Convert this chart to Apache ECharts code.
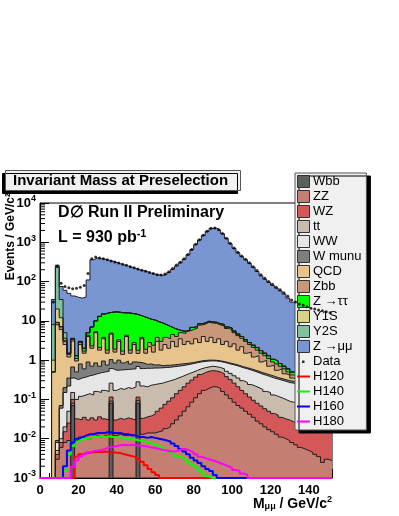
<!DOCTYPE html>
<html><head><meta charset="utf-8">
<script src="https://cdn.jsdelivr.net/npm/echarts@6/dist/echarts.min.js"></script>
<style>html,body{margin:0;padding:0;background:#fff}#c{width:399px;height:516px}</style>
</head><body><div id="c"></div>
<script>
// ---------- binning (2 GeV bins from 0 to 152) ----------
const binLow = 0, binWidth = 2;
const xMin = 0, xMax = 152, xTickStep = 20;
const yMin = 1e-3, yMax = 1e4;
const yMinorMultipliers = [2, 3, 4, 5, 6, 7, 8, 9];

// ---------- stacked backgrounds: cumulative top of each layer (Events / GeV/c^2) ----------
const wbb = [
  0,0,0,0,0,0,0,0,0.07,0,
  0,0,0,0,0,0,0,0,0.08,0,
  0,0,0,0,0,0.08,0,0,0,0,
  0,0,0,0,0,0,0,0,0,0,
  0,0,0,0,0,0,0,0,0,0,
  0,0,0,0,0,0,0,0,0,0,
  0,0,0,0,0,0,0,0,0,0,
  0,0,0,0,0,0];
const topZZ = [
  0,0,0,0,0.003,0.006,0.008,0.009,0.010,0.009,
  0.011,0.010,0.010,0.011,0.012,0.011,0.012,0.012,0.011,0.012,
  0.013,0.012,0.012,0.013,0.012,0.013,0.013,0.014,0.014,0.014,
  0.015,0.016,0.018,0.020,0.024,0.030,0.038,0.050,0.065,0.085,
  0.11,0.14,0.17,0.19,0.21,0.21,0.19,0.16,0.13,0.105,
  0.085,0.07,0.06,0.05,0.042,0.035,0.028,0.024,0.02,0.017,
  0.015,0.013,0.011,0.010,0.009,0.008,0.007,0.006,0.0055,0.005,
  0.0045,0.004,0.0035,0.0025,0.003,0.0028];
const topWZ = [
  0,0,0,0,0.004,0.008,0.015,0.025,0.030,0.032,
  0.030,0.035,0.030,0.034,0.030,0.036,0.032,0.030,0.035,0.030,
  0.033,0.031,0.034,0.032,0.030,0.035,0.033,0.036,0.038,0.042,
  0.05,0.06,0.075,0.09,0.11,0.14,0.17,0.21,0.26,0.31,
  0.37,0.43,0.48,0.52,0.54,0.53,0.50,0.45,0.38,0.32,
  0.26,0.21,0.17,0.14,0.115,0.095,0.08,0.068,0.058,0.05,
  0.044,0.04,0.035,0.032,0.03,0.027,0.025,0.023,0.022,0.02,
  0.021,0.019,0.02,0.018,0.02,0.019];
const topTT = [
  0,0,0,0,0.005,0.01,0.02,0.05,0.08,0.10,
  0.12,0.13,0.14,0.13,0.16,0.15,0.17,0.16,0.18,0.17,
  0.19,0.18,0.20,0.19,0.21,0.20,0.22,0.21,0.23,0.24,
  0.25,0.26,0.28,0.30,0.32,0.35,0.38,0.42,0.46,0.50,
  0.55,0.60,0.64,0.67,0.70,0.68,0.65,0.60,0.52,0.46,
  0.40,0.35,0.30,0.27,0.24,0.22,0.20,0.18,0.16,0.15,
  0.13,0.12,0.11,0.10,0.09,0.085,0.08,0.075,0.07,0.065,
  0.06,0.058,0.055,0.05,0.048,0.045];
const topWW = [
  0,0,0,0,0.008,0.06,0.15,0.22,0.28,0.32,
  0.35,0.37,0.40,0.42,0.45,0.48,0.50,0.52,0.53,0.55,
  0.56,0.57,0.58,0.59,0.60,0.61,0.61,0.62,0.62,0.63,
  0.63,0.64,0.65,0.66,0.68,0.70,0.72,0.75,0.78,0.82,
  0.86,0.90,0.93,0.95,0.96,0.95,0.92,0.88,0.83,0.78,
  0.74,0.69,0.64,0.60,0.56,0.52,0.48,0.44,0.41,0.38,
  0.35,0.33,0.31,0.29,0.27,0.26,0.24,0.23,0.22,0.21,
  0.20,0.19,0.18,0.17,0.165,0.16];
const topWmunu = [
  0,0,0,0,0.009,0.07,0.2,0.35,0.6,0.5,
  0.8,0.6,0.9,0.7,0.85,0.7,0.95,0.75,0.95,0.85,
  1.0,0.85,0.95,0.8,0.9,0.8,0.85,0.78,0.8,0.75,
  0.76,0.72,0.74,0.74,0.76,0.78,0.8,0.82,0.84,0.87,
  0.91,0.95,0.98,1.0,1.0,0.99,0.96,0.92,0.87,0.82,
  0.78,0.73,0.68,0.64,0.6,0.56,0.52,0.48,0.45,0.42,
  0.39,0.36,0.34,0.32,0.3,0.29,0.27,0.26,0.25,0.24,
  0.23,0.22,0.21,0.2,0.19,0.18];
const topQCD = [
  0,0,0,0.5,8,6,2.5,1.2,3,0.95,
  2.5,1.5,4,2,5,1.8,3.5,1.5,4.5,1.6,
  3,1.4,4,1.5,2.5,1.4,3.5,1.5,2.2,1.6,
  3,1.8,2.5,2,3,2.2,3.5,2.5,3,2.6,
  3.5,2.8,4,3,3.8,2.8,3.5,2.5,3,2.2,
  2.6,1.8,2.2,1.5,1.6,1.2,1.3,0.9,1.0,0.7,
  0.75,0.55,0.6,0.45,0.42,0.35,0.33,0.3,0.28,0.27,
  0.25,0.24,0.23,0.22,0.21,0.2];
const topZbb = [
  0,0,0,0.5,9,7,3,1.4,3.3,1.1,
  2.8,1.7,4.3,2.3,5.3,2.1,3.8,1.8,4.8,1.9,
  3.3,1.7,4.3,1.8,2.8,1.7,3.8,1.9,2.8,2.4,
  3.8,3.0,3.8,3.5,4.5,4.0,5.0,4.8,5.5,6.0,
  6.5,7.8,8.2,9.2,8.8,8.6,7.8,7.6,6.4,6.1,
  5.0,4.2,3.6,3.0,2.5,2.1,1.8,1.5,1.3,1.1,
  0.9,0.8,0.7,0.6,0.5,0.42,0.4,0.38,0.35,0.33,
  0.31,0.3,0.28,0.27,0.26,0.25];
const topZtautau = [
  0,0,0,0.5,9.2,7.2,3.2,1.5,3.5,1.3,
  3.0,2.0,5.0,7.0,10,13,15,16,16.5,17,
  16.5,16,16,15.5,15,14,13,12,11,10.5,
  9.5,8.8,8.0,7.2,6.5,6.0,5.6,5.4,5.8,6.8,
  7.2,8.4,8.8,9.8,9.4,9.2,8.4,8.1,7.0,6.6,
  5.5,4.6,4.0,3.3,2.8,2.4,2.1,1.75,1.5,1.3,
  1.05,0.95,0.82,0.7,0.6,0.5,0.48,0.45,0.42,0.4,
  0.37,0.36,0.34,0.33,0.32,0.31];
const topY1S = [
  0,0,0,1.0,20,12,3.6,1.5,3.5,1.3,
  3.0,2.0,5.0,7.0,10,13,15,16,16.5,17,
  16.5,16,16,15.5,15,14,13,12,11,10.5,
  9.5,8.8,8.0,7.2,6.5,6.0,5.6,5.4,5.8,6.8,
  7.2,8.4,8.8,9.8,9.4,9.2,8.4,8.1,7.0,6.6,
  5.5,4.6,4.0,3.3,2.8,2.4,2.1,1.75,1.5,1.3,
  1.05,0.95,0.82,0.7,0.6,0.5,0.48,0.45,0.42,0.4,
  0.37,0.36,0.34,0.33,0.32,0.31];
const topY2S = [
  0,0,0,8,230,35,5,1.5,3.5,1.3,
  3.0,2.0,5.0,7.0,10,13,15,16,16.5,17,
  16.5,16,16,15.5,15,14,13,12,11,10.5,
  9.5,8.8,8.0,7.2,6.5,6.0,5.6,5.4,5.8,6.8,
  7.2,8.4,8.8,9.8,9.4,9.2,8.4,8.1,7.0,6.6,
  5.5,4.6,4.0,3.3,2.8,2.4,2.1,1.75,1.5,1.3,
  1.05,0.95,0.82,0.7,0.6,0.5,0.48,0.45,0.42,0.4,
  0.37,0.36,0.34,0.33,0.32,0.31];
const topZmumu = [
  0,0,0,35,260,75,60,50,43,40,
  38,40,110,360,400,390,370,350,330,305,
  285,265,250,232,215,200,190,178,165,155,
  148,145,150,170,205,250,300,370,480,650,
  880,1150,1500,1900,2250,2300,2050,1650,1250,920,
  700,540,430,360,290,230,180,140,115,95,
  80,68,58,48,38,30,27,25,23,21,
  20,19,18,17,16,15];

// ---------- data points (bin centres) ----------
const dataCounts = [
  null,null,null,30,250,90,75,70,66,68,
  72,80,160,380,420,400,380,360,335,315,
  295,275,260,240,225,210,195,182,170,160,
  150,148,155,178,215,265,310,380,490,660,
  890,1160,1520,1920,2280,2320,2080,1680,1270,940,
  720,560,445,370,300,240,190,150,122,100,
  85,72,62,52,42,34,30,27,25,23,
  21,20,19,18,17,16];

// ---------- Higgs signals (not stacked) ----------
const h120 = [
  0,0,0,0,0,0,0,0,0,0.0035,
  0.004,0.0043,0.0044,0.0045,0.0046,0.0046,0.0047,0.0046,0.0045,0.0044,
  0.0043,0.004,0.0038,0.0036,0.0034,0.003,0.0026,0.0021,0.0017,0.0014,
  0.0012,0.001,0,0,0,0,0,0,0,0,
  0,0,0,0,0,0,0,0,0,0,
  0,0,0,0,0,0,0,0,0,0,
  0,0,0,0,0,0,0,0,0,0,
  0,0,0,0,0,0];
const h140 = [
  0,0,0,0,0,0,0.0015,0.004,0.0065,0.0085,
  0.0095,0.01,0.0105,0.011,0.011,0.0115,0.011,0.0115,0.011,0.011,
  0.0108,0.0105,0.0102,0.0098,0.0094,0.009,0.0087,0.0083,0.0078,0.0072,
  0.0065,0.0058,0.005,0.0045,0.0041,0.0036,0.0033,0.003,0.0026,0.0022,
  0.0019,0.0016,0.0013,0.0011,0,0,0,0,0,0,
  0,0,0,0,0,0,0,0,0,0,
  0,0,0,0,0,0,0,0,0,0,
  0,0,0,0,0,0];
const h160 = [
  0,0,0,0,0,0,0.002,0.005,0.008,0.01,
  0.011,0.012,0.013,0.013,0.014,0.014,0.014,0.015,0.014,0.014,
  0.014,0.013,0.013,0.012,0.012,0.011,0.011,0.0105,0.011,0.0105,
  0.01,0.0095,0.009,0.0085,0.0075,0.0065,0.0055,0.0047,0.004,0.0033,
  0.0028,0.0024,0.002,0.0017,0.0015,0.0012,0.001,0,0,0,
  0,0,0,0,0,0,0,0,0,0,
  0,0,0,0,0,0,0,0,0,0,
  0,0,0,0,0,0];
const h180 = [
  0,0,0,0,0,0,0,0,0.0019,0.0028,
  0.0035,0.004,0.0045,0.0048,0.005,0.0052,0.0055,0.006,0.0062,0.0065,
  0.0068,0.007,0.0068,0.007,0.0068,0.0066,0.0065,0.0063,0.006,0.0058,
  0.0055,0.0052,0.005,0.0048,0.0047,0.005,0.0055,0.0055,0.005,0.0045,
  0.004,0.0035,0.0032,0.003,0.0028,0.0026,0.0024,0.0022,0.002,0.0018,
  0.0016,0.0015,0.0013,0.0012,0,0,0,0,0,0,
  0,0,0,0,0,0,0,0,0,0,
  0,0,0,0,0,0];

const FONT = '"Liberation Sans", Arial, Helvetica, sans-serif';
const OUTLINE = '#1e1e1e';

const layers = [
  {name: 'Wbb', top: wbb, color: '#5e5e5e', base: true},
  {name: 'ZZ', top: topZZ, color: '#c47f72'},
  {name: 'WZ', top: topWZ, color: '#d45858'},
  {name: 'tt', top: topTT, color: '#c9bcae'},
  {name: 'WW', top: topWW, color: '#e6e6e6'},
  {name: 'W munu', top: topWmunu, color: '#7f7f7f'},
  {name: 'QCD', top: topQCD, color: '#e6c48c'},
  {name: 'Zbb', top: topZbb, color: '#c9977a'},
  {name: 'Z \u2192\u03c4\u03c4', top: topZtautau, color: '#00ff00'},
  {name: 'Y1S', top: topY1S, color: '#d8d287'},
  {name: 'Y2S', top: topY2S, color: '#80c2a0'},
  {name: 'Z \u2192\u03bc\u03bc', top: topZmumu, color: '#7996d2'}
];
const higgs = [
  {name: 'H120', vals: h120, color: '#ff0000'},
  {name: 'H140', vals: h140, color: '#00ff00'},
  {name: 'H160', vals: h160, color: '#0000ff'},
  {name: 'H180', vals: h180, color: '#ff00ff'}
];

function stepPoints(vals, extra) {
  const pts = [];
  let v = 0;
  for (let i = 0; i < vals.length; i++) {
    v = vals[i] + (extra ? extra[i] : 0);
    pts.push([binLow + i * binWidth, Math.max(v, yMin)]);
  }
  pts.push([binLow + vals.length * binWidth, Math.max(v, yMin)]);
  return pts;
}

const series = [];
// draw the tallest cumulative layer first
for (let k = layers.length - 1; k >= 0; k--) {
  const L = layers[k];
  series.push({
    name: L.name, type: 'line', step: 'end', symbol: 'none', silent: true,
    data: stepPoints(L.top, L.base ? null : wbb),
    itemStyle: {color: L.color},
    lineStyle: {color: OUTLINE, width: 1},
    areaStyle: {color: L.color, opacity: 1, origin: 'start'},
    z: 2
  });
}
higgs.forEach(h => series.push({
  name: h.name, type: 'line', step: 'end', symbol: 'none', silent: true,
  data: stepPoints(h.vals, null),
  itemStyle: {color: h.color},
  lineStyle: {color: h.color, width: 2},
  z: 3
}));
const dataPts = [];
dataCounts.forEach((v, i) => { if (v != null) dataPts.push([binLow + (i + 0.5) * binWidth, v]); });
series.push({
  name: 'Data', type: 'scatter', symbol: 'circle', symbolSize: 3, silent: true,
  data: dataPts, itemStyle: {color: '#000'}, z: 4
});
// log-axis minor ticks (2..9 x 10^k), drawn through the axis scale
const minorTickData = [];
for (let e = Math.log10(yMin); e < Math.log10(yMax); e++) {
  yMinorMultipliers.forEach(m => minorTickData.push([xMin, m * Math.pow(10, e)]));
}
series.push({
  type: 'custom', silent: true, z: 5, data: minorTickData,
  renderItem: (params, api) => {
    const p = api.coord([api.value(0), api.value(1)]);
    return {type: 'line', shape: {x1: p[0], y1: p[1], x2: p[0] + 5, y2: p[1]},
            style: {stroke: '#000', lineWidth: 1}};
  }
});

const boxIcon = 'path://M0,0L12,0L12,12L0,12Z';
const lineIcon = 'path://M0,0M0,5L13,5L13,7L0,7ZM13,12';
const dotIcon = 'path://M0,0M5,5L7.5,5L7.5,7.5L5,7.5ZM13,12';
const legendData = layers.map(L => ({
  name: L.name, icon: boxIcon,
  itemStyle: {color: L.color, borderColor: '#333', borderWidth: 1}
}));
legendData.push({name: 'Data', icon: dotIcon, itemStyle: {color: '#000', borderWidth: 0}});
higgs.forEach(h => legendData.push({name: h.name, icon: lineIcon, itemStyle: {color: h.color, borderWidth: 0}}));

const chart = echarts.init(document.getElementById('c'), null, {renderer: 'canvas'});
chart.setOption({
  animation: false,
  backgroundColor: '#fff',
  grid: {left: 40, right: 67, top: 203, bottom: 38, show: true, borderColor: '#000', borderWidth: 1, backgroundColor: 'transparent'},
  title: [
    {text: 'Invariant Mass at Preselection', left: 5, top: 170, padding: [2, 13, 2, 8],
     backgroundColor: '#f0f0f0', borderColor: '#555', borderWidth: 1,
     shadowColor: '#000', shadowOffsetX: -3, shadowOffsetY: 3, shadowBlur: 0,
     textStyle: {fontFamily: FONT, fontSize: 15, fontWeight: 'bold', color: '#000', lineHeight: 17}},
    {text: 'D\u2205 Run II Preliminary', left: 58, top: 205, padding: 0,
     textStyle: {fontFamily: FONT, fontSize: 16, fontWeight: 'bold', color: '#000'}},
    {text: '{a|L = 930 pb}{s|-1}', left: 58, top: 228, padding: 0,
     textStyle: {rich: {
       a: {fontFamily: FONT, fontSize: 16, fontWeight: 'bold', color: '#000'},
       s: {fontFamily: FONT, fontSize: 11, fontWeight: 'bold', color: '#000', padding: [0, 0, 9, 0]}
     }}}
  ],
  legend: {
    orient: 'vertical', left: 295, top: 173,
    itemWidth: 13, itemHeight: 12, itemGap: 2,
    padding: [2, 5, 2, 2],
    backgroundColor: '#f0f0f0', borderColor: '#555', borderWidth: 1,
    shadowColor: '#000', shadowOffsetX: 4, shadowOffsetY: 3, shadowBlur: 0,
    selectedMode: false,
    textStyle: {fontFamily: FONT, fontSize: 13, color: '#000', padding: [0, 0, 0, -2]},
    data: legendData
  },
  xAxis: {
    type: 'value', min: xMin, max: xMax, interval: xTickStep,
    axisLine: {show: true, lineStyle: {color: '#000'}},
    axisTick: {show: true, inside: true, length: 9, lineStyle: {color: '#000'}},
    minorTick: {show: true, splitNumber: 4, length: 5, lineStyle: {color: '#000'}},
    splitLine: {show: false},
    axisLabel: {margin: 6, fontFamily: FONT, fontSize: 13, fontWeight: 'bold', color: '#000',
      formatter: v => (v % xTickStep === 0 ? String(v) : '')}
  },
  yAxis: {
    type: 'log', logBase: 10, min: yMin, max: yMax, splitNumber: 7,
    axisLine: {show: true, lineStyle: {color: '#000'}},
    axisTick: {show: true, inside: true, length: 9, lineStyle: {color: '#000'}},
    splitLine: {show: false},
    axisLabel: {margin: 4, color: '#000',
      formatter: v => {
        const e = Math.round(Math.log10(v));
        if (e === 0) return '{b|1}';
        if (e === 1) return '{b|10}';
        return '{b|10}{s|' + e + '}';
      },
      rich: {
        b: {fontFamily: FONT, fontSize: 13, fontWeight: 'bold', color: '#000'},
        s: {fontFamily: FONT, fontSize: 9, fontWeight: 'bold', color: '#000', padding: [0, 0, 8, 0]}
      }
    }
  },
  graphic: [
    {type: 'text', x: 11, y: 193, rotation: Math.PI / 2, z: 10,
     style: {text: 'Events / GeV/c\u00b2', font: 'bold 12px ' + FONT, fill: '#000', align: 'right', verticalAlign: 'middle'}},
    {type: 'text', x: 332, y: 504, z: 10,
     style: {text: '{b|M}{u|\u03bc\u03bc}{b| / GeV/c}{s|2}', align: 'right', verticalAlign: 'middle',
       rich: {
         b: {font: 'bold 14px ' + FONT, fill: '#000'},
         u: {font: 'bold 9px ' + FONT, fill: '#000', padding: [6, 0, 0, 0]},
         s: {font: 'bold 9px ' + FONT, fill: '#000', padding: [0, 0, 8, 0]}
       }}}
  ],
  series: series
});
</script>
</body></html>
